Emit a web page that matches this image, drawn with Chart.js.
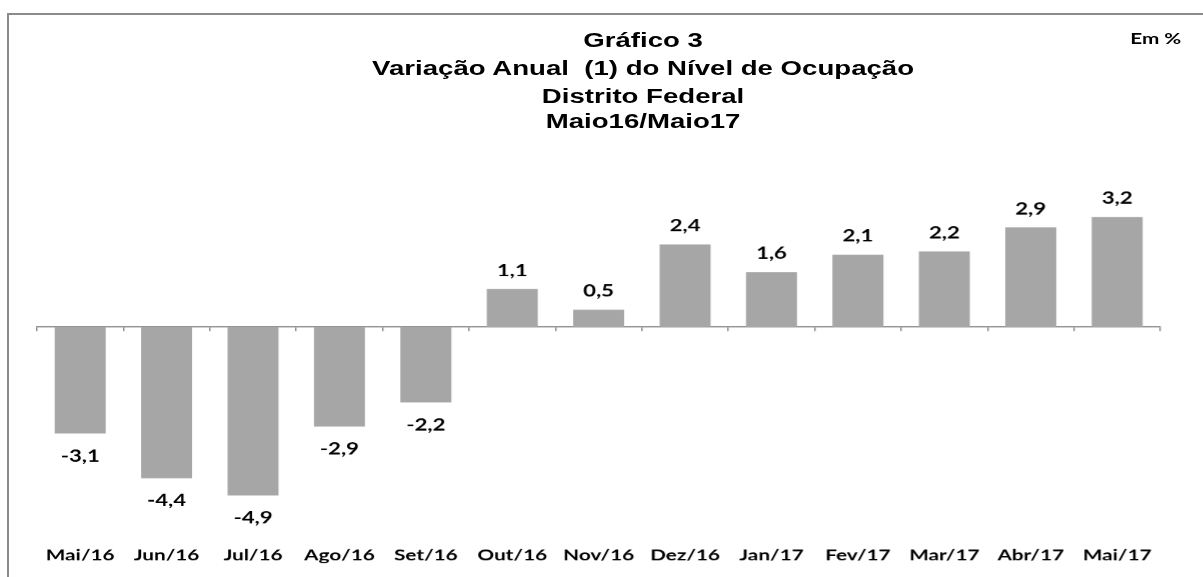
<!DOCTYPE html>
<html><head><meta charset="utf-8">
<script src="https://cdn.jsdelivr.net/npm/chart.js@4.4.1/dist/chart.umd.min.js"></script>
<style>
html,body{margin:0;padding:0;background:#fff;width:1203px;height:577px;overflow:hidden;}
#frame{position:absolute;left:7px;top:13px;width:1300px;height:700px;border-top:2px solid #8a8a8a;border-left:2px solid #8a8a8a;}
#stage{position:absolute;left:0;top:0;width:872px;height:577px;transform:scaleX(1.38);transform-origin:0 0;}
.t{position:absolute;left:0;width:932px;text-align:center;font:bold 20px "Liberation Sans",Arial,sans-serif;line-height:20px;color:#000;white-space:pre;}
#em{position:absolute;right:16px;top:30.5px;font:bold 15px Lato,sans-serif;line-height:15px;color:#000;}
canvas{position:absolute;left:0;top:0;}
</style>
</head><body>
<div id="frame"></div>
<div id="stage">
  <canvas id="c" width="872" height="577"></canvas>
  <div class="t" style="top:30px">Gráfico 3</div>
  <div class="t" style="top:57.5px">Variação Anual  (1) do Nível de Ocupação</div>
  <div class="t" style="top:85.5px">Distrito Federal</div>
  <div class="t" style="top:110.5px">Maio16/Maio17</div>
  <div id="em">Em %</div>
</div>
<script>
const categories = ["Mai/16","Jun/16","Jul/16","Ago/16","Set/16","Out/16","Nov/16","Dez/16","Jan/17","Fev/17","Mar/17","Abr/17","Mai/17"];
const variacao = [-3.1,-4.4,-4.9,-2.9,-2.2,1.1,0.5,2.4,1.6,2.1,2.2,2.9,3.2];
const yMin = -6, yMax = 5;

const fmt = v => v.toFixed(1).replace('.', ',');

const valueLabels = {
  id: 'valueLabels',
  afterDatasetsDraw(chart) {
    const ctx = chart.ctx;
    const meta = chart.getDatasetMeta(0);
    ctx.save();
    ctx.font = 'bold 16px Lato, sans-serif';
    ctx.fillStyle = '#000';
    ctx.textAlign = 'center';
    ctx.textBaseline = 'alphabetic';
    meta.data.forEach((bar, i) => {
      const v = chart.data.datasets[0].data[i];
      const y = v >= 0 ? bar.y - 13 : bar.y + 28;
      ctx.fillText(fmt(v), bar.x, y);
    });
    ctx.restore();
  }
};

new Chart(document.getElementById('c'), {
  type: 'bar',
  data: {
    labels: categories,
    datasets: [{
      data: variacao,
      backgroundColor: '#A6A6A6',
      borderWidth: 0,
      barPercentage: 0.59,
      categoryPercentage: 1.0
    }]
  },
  options: {
    responsive: false,
    animation: false,
    devicePixelRatio: 1.38,
    layout: { padding: { top: 155, left: 26.8, right: 31.4, bottom: 0 } },
    plugins: { legend: { display: false }, title: { display: false }, tooltip: { enabled: false } },
    scales: {
      y: { display: false, min: yMin, max: yMax },
      x: {
        type: 'category',
        position: { y: 0 },
        offset: true,
        grid: { offset: true, drawOnChartArea: false, drawTicks: true, tickLength: 4, color: '#868686', lineWidth: 1 },
        border: { display: true, color: '#868686', width: 1 },
        ticks: { display: false }
      },
      xb: {
        type: 'category',
        position: 'bottom',
        offset: true,
        grid: { display: false, drawTicks: false },
        border: { display: false },
        ticks: { padding: 13, color: '#000', font: { family: 'Lato', size: 15, weight: 'bold' }, maxRotation: 0, autoSkip: false }
      }
    }
  },
  plugins: [valueLabels]
});
</script>
</body></html>
